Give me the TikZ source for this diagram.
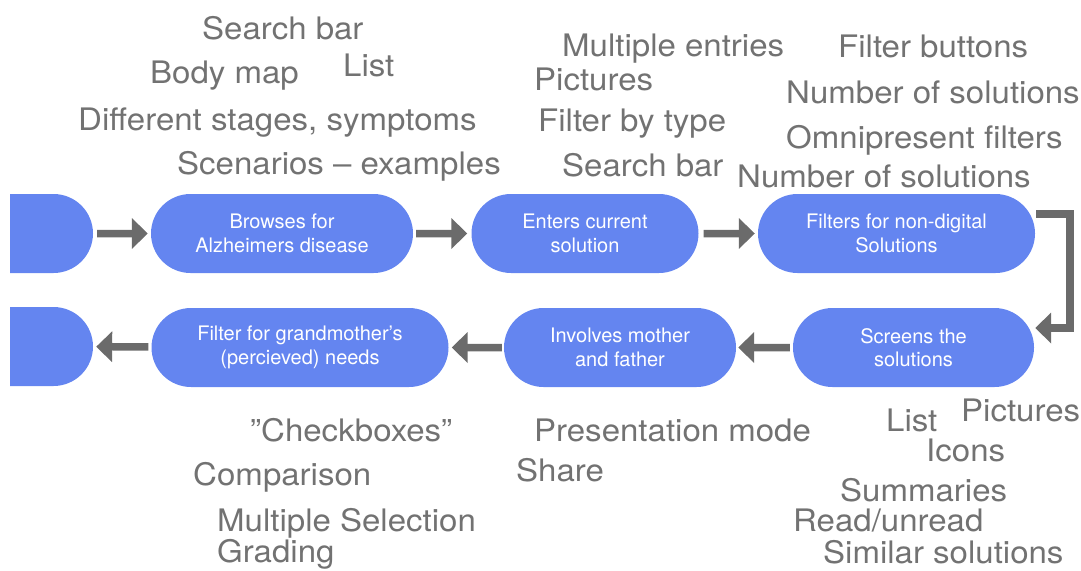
\documentclass[tikz,border=0pt]{standalone}
\usepackage{fontspec}
\setmainfont{TeX Gyre Heros}
\newfontfamily\labfont{TeX Gyre Heros}[FakeStretch=1.065]
\usetikzlibrary{shapes.misc,arrows.meta}
\definecolor{boxblue}{HTML}{6485F0}
\definecolor{arrgray}{HTML}{6B6B6B}
\definecolor{labgray}{HTML}{727272}
\tikzset{
  stepbox/.style={rounded rectangle, fill=boxblue, draw=none, minimum height=79pt,
    inner sep=0pt, text=white, align=center, font=\fontsize{20}{23.5}\selectfont},
  endbox/.style={rounded rectangle, rounded rectangle left arc=none, fill=boxblue,
    draw=none, minimum height=79pt, minimum width=83pt, inner sep=0pt},
  flowarr/.style={draw=arrgray, line width=7.5pt, line join=miter,
    -{Triangle[length=16pt,width=30pt]}},
  lab/.style={anchor=base west, inner sep=0pt, text=labgray,
    font=\labfont\fontsize{31}{31}\selectfont},
}
\begin{document}
\begin{tikzpicture}[x=1pt,y=-1pt]
\useasboundingbox (0,0) rectangle (1081,570);
% start / end
\node[endbox] (start) at (51.5,233.5) {};
\node[endbox] (finish) at (51.5,346.5) {};
% steps
\node[stepbox, minimum width=262pt] (n1) at (282,233.5) {Browses for\\Alzheimers disease};
\node[stepbox, minimum width=227pt] (n2) at (585,233.5) {Enters current\\solution};
\node[stepbox, minimum width=277pt] (n3) at (896.5,233.5) {Filters for non-digital\\Solutions};
\node[stepbox, minimum width=241pt] (n4) at (913.5,347.5) {Screens the\\solutions};
\node[stepbox, minimum width=232pt] (n5) at (620,347.5) {Involves mother\\and father};
\node[stepbox, minimum width=297pt] (n6) at (300,347.5) {Filter for grandmother’s\\(percieved) needs};
% connectors
\draw[flowarr, shorten <=4pt, shorten >=3pt] (start) -- (n1);
\draw[flowarr, shorten <=3pt, shorten >=4pt] (n1) -- (n2);
\draw[flowarr, shorten <=5pt, shorten >=3pt] (n2) -- (n3);
\draw[flowarr] ([yshift=19.5pt,xshift=1pt]n3.east) -- ++(34,0) |- ([yshift=19.5pt,xshift=1pt]n4.east);
\draw[flowarr, shorten <=3pt, shorten >=2pt] (n4) -- (n5);
\draw[flowarr, shorten <=2pt, shorten >=3pt] (n5) -- (n6);
\draw[flowarr, shorten <=3pt, shorten >=3pt] (n6) -- (finish);
% labels top left
\node[lab] (l1) at (202,39) {Search bar};
\node[lab] (l2) at (150,83) {Body map};
\node[lab] (l3) at (343,76) {List};
\node[lab] (l4) at (78,130) {Different stages, symptoms};
\node[lab] (l5) at (177,174) {Scenarios – examples};
% labels top middle
\node[lab] (l6) at (562,56) {Multiple entries};
\node[lab] (l7) at (534,90) {Pictures};
\node[lab] (l8) at (538,131) {Filter by type};
\node[lab] (l9) at (562,176) {Search bar};
% labels top right
\node[lab] (l10) at (838,57) {Filter buttons};
\node[lab] (l11) at (786,103) {Number of solutions};
\node[lab] (l12) at (786,148) {Omnipresent filters};
\node[lab] (l13) at (737,187) {Number of solutions};
% labels bottom left
\node[lab] (l14) at (250,441) {”Checkboxes”};
\node[lab] (l15) at (193,485) {Comparison};
\node[lab] (l16) at (217,531) {Multiple Selection};
\node[lab] (l17) at (217,562) {Grading};
% labels bottom middle
\node[lab] (l18) at (534,441) {Presentation mode};
\node[lab] (l19) at (516,481) {Share};
% labels bottom right
\node[lab] (l20) at (886,431) {List};
\node[lab] (l21) at (961,421) {Pictures};
\node[lab] (l22) at (926,461) {Icons};
\node[lab] (l23) at (840,501) {Summaries};
\node[lab] (l24) at (793,531) {Read/unread};
\node[lab] (l25) at (823,563) {Similar solutions};
\end{tikzpicture}
\end{document}
